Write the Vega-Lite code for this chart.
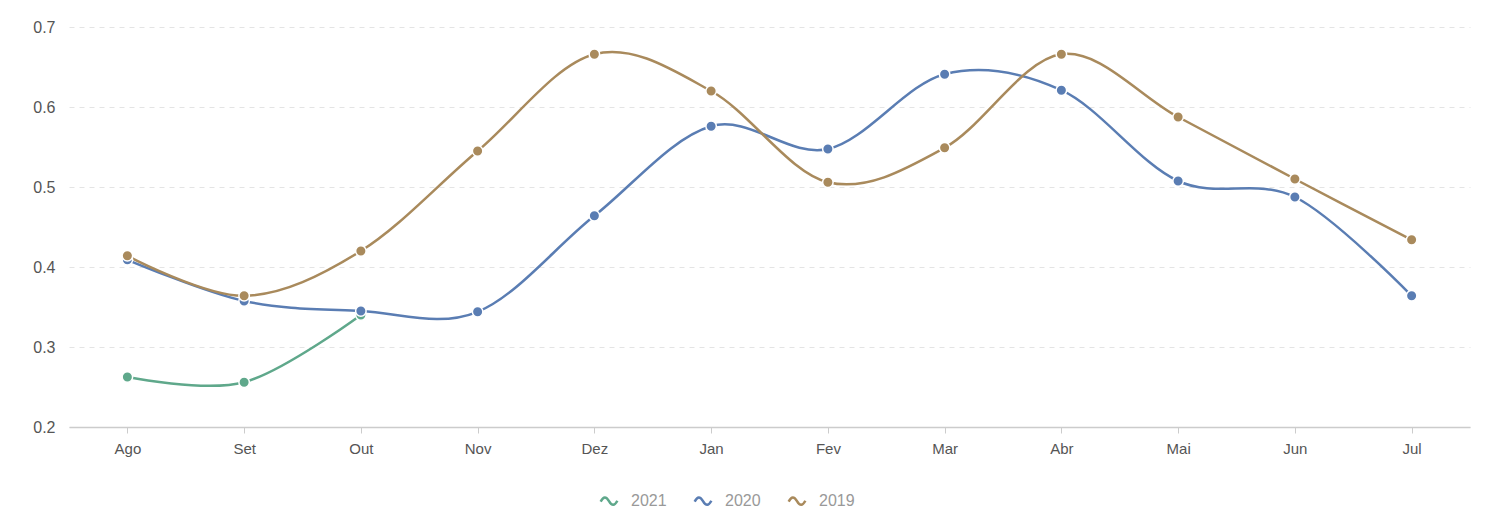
{
  "$schema": "https://vega.github.io/schema/vega-lite/v6.json",
  "width": 1486,
  "height": 520,
  "autosize": {"type": "fit", "contains": "padding"},
  "padding": {"left": 32, "right": 16, "top": 19, "bottom": 64},
  "background": "white",
  "config": {
    "font": "Liberation Sans",
    "view": {"stroke": null}
  },
  "data": {
    "values": [
      {"mes": "Ago", "ano": "2021", "valor": 0.2625},
      {"mes": "Set", "ano": "2021", "valor": 0.256},
      {"mes": "Out", "ano": "2021", "valor": 0.34},
      {"mes": "Ago", "ano": "2020", "valor": 0.409},
      {"mes": "Set", "ano": "2020", "valor": 0.3575},
      {"mes": "Out", "ano": "2020", "valor": 0.345},
      {"mes": "Nov", "ano": "2020", "valor": 0.344},
      {"mes": "Dez", "ano": "2020", "valor": 0.464},
      {"mes": "Jan", "ano": "2020", "valor": 0.576},
      {"mes": "Fev", "ano": "2020", "valor": 0.5475},
      {"mes": "Mar", "ano": "2020", "valor": 0.641},
      {"mes": "Abr", "ano": "2020", "valor": 0.621},
      {"mes": "Mai", "ano": "2020", "valor": 0.5075},
      {"mes": "Jun", "ano": "2020", "valor": 0.4875},
      {"mes": "Jul", "ano": "2020", "valor": 0.364},
      {"mes": "Ago", "ano": "2019", "valor": 0.414},
      {"mes": "Set", "ano": "2019", "valor": 0.364},
      {"mes": "Out", "ano": "2019", "valor": 0.42},
      {"mes": "Nov", "ano": "2019", "valor": 0.545},
      {"mes": "Dez", "ano": "2019", "valor": 0.666},
      {"mes": "Jan", "ano": "2019", "valor": 0.62},
      {"mes": "Fev", "ano": "2019", "valor": 0.506},
      {"mes": "Mar", "ano": "2019", "valor": 0.549},
      {"mes": "Abr", "ano": "2019", "valor": 0.666},
      {"mes": "Mai", "ano": "2019", "valor": 0.5875},
      {"mes": "Jun", "ano": "2019", "valor": 0.51},
      {"mes": "Jul", "ano": "2019", "valor": 0.434}
    ]
  },
  "encoding": {
    "x": {
      "field": "mes", "type": "ordinal",
      "sort": ["Ago","Set","Out","Nov","Dez","Jan","Fev","Mar","Abr","Mai","Jun","Jul"],
      "title": null,
      "axis": {"labelAngle": 0, "labelFontSize": 15, "labelColor": "#555", "labelPadding": 8, "tickSize": 6, "tickColor": "#ccc", "domainColor": "#ccc", "domainWidth": 1.5, "grid": false}
    },
    "y": {
      "field": "valor", "type": "quantitative",
      "scale": {"domain": [0.2, 0.7], "nice": false, "zero": false},
      "title": null,
      "axis": {"values": [0.2,0.3,0.4,0.5,0.6,0.7], "format": ".1f", "labelFontSize": 16, "labelColor": "#555", "labelPadding": 14, "domain": false, "ticks": false, "gridColor": "#e4e4e4", "gridDash": [5,5], "gridWidth": 1}
    },
    "color": {
      "field": "ano", "type": "nominal",
      "scale": {"domain": ["2021","2020","2019"], "range": ["#5fa88b","#5a7db3","#a98a5c"]},
      "title": null,
      "legend": {
        "orient": "none", "direction": "horizontal", "legendX": 530, "legendY": 464,
        "symbolType": "M-1,0.05 C-0.65,-0.6 -0.35,-0.6 0,0 C0.35,0.6 0.65,0.6 1,-0.05",
        "symbolSize": 280, "symbolStrokeWidth": 2.5,
        "labelFontSize": 16, "labelColor": "#999", "labelOffset": 12, "columnPadding": 22,
        "encode": {"symbols": {"update": {"fill": {"value": "transparent"}, "fillOpacity": {"value": 0}, "strokeWidth": {"value": 2.5}}}}
      }
    }
  },
  "layer": [
    {
      "mark": {"type": "line", "interpolate": "cardinal", "tension": 0, "strokeWidth": 2.5}
    },
    {
      "mark": {"type": "point", "filled": true, "size": 110, "stroke": "white", "strokeWidth": 1.5, "opacity": 1}
    }
  ]
}
